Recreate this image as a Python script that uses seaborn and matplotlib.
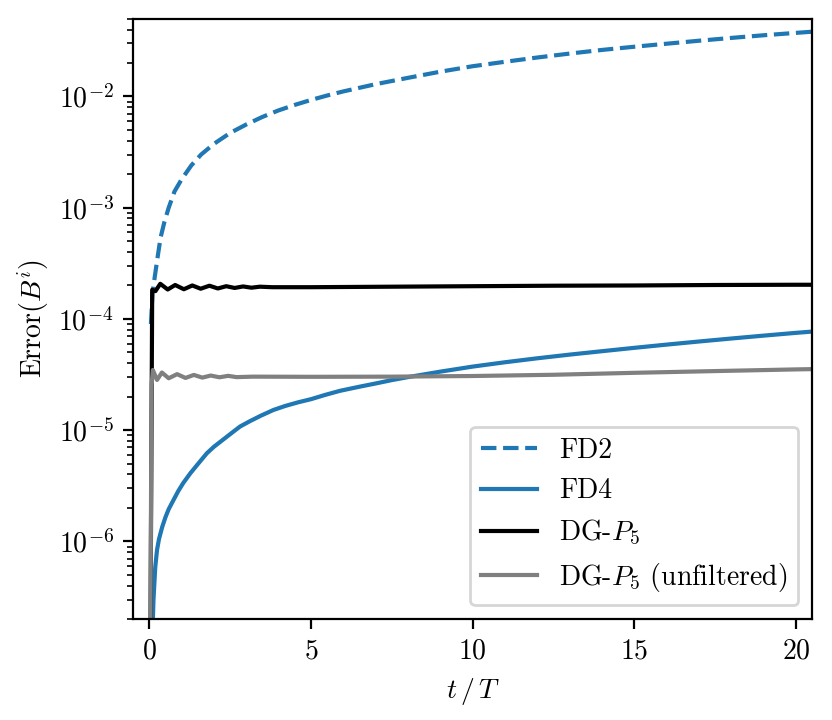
import matplotlib
matplotlib.use('Agg')
import matplotlib.pyplot as plt
import seaborn as sns

# values (t/T, error)
t_fd2 = [0.05, 0.1, 0.17, 0.27, 0.35, 0.47, 0.6, 0.78, 1.0, 1.3, 1.6, 2.0, 2.5, 3.0, 3.5, 4.0,
         4.5, 5.0, 5.5, 6.0, 7.0, 8.0, 9.0, 10.0, 11.0, 12.0, 13.0, 14.0, 15.0, 16.0, 17.0,
         18.0, 19.0, 20.0, 20.5]
err_fd2 = [9e-5, 1.7e-4, 2.4e-4, 3.8e-4, 5.4e-4, 7.5e-4, 1.0e-3, 1.4e-3, 1.8e-3, 2.4e-3, 3.0e-3,
           3.75e-3, 4.7e-3, 5.6e-3, 6.55e-3, 7.5e-3, 8.4e-3, 9.3e-3, 0.0102, 0.0111, 0.0129,
           0.0147, 0.0167, 0.0187, 0.0205, 0.0224, 0.0243, 0.0262, 0.0280, 0.0298, 0.0317,
           0.0336, 0.0355, 0.0373, 0.0382]

t_fd4 = [0.08, 0.13, 0.185, 0.24, 0.3, 0.4, 0.5, 0.6, 0.75, 0.9, 1.05, 1.27, 1.5, 1.78, 2.0,
         2.3, 2.6, 2.81, 3.1, 3.45, 3.84, 4.2, 4.6, 5.0, 5.45, 5.9, 6.5, 7.0, 7.5, 8.0, 9.0,
         10.0, 11.0, 12.0, 13.0, 14.0, 15.0, 16.0, 17.0, 18.0, 19.0, 20.0, 20.5]
err_fd4 = [1e-7, 3.0e-7, 5.9e-7, 8.4e-7, 1.05e-6, 1.35e-6, 1.65e-6, 1.95e-6, 2.36e-6, 2.85e-6,
           3.35e-6, 4.1e-6, 4.95e-6, 6.2e-6, 7.1e-6, 8.3e-6, 9.7e-6, 1.08e-5, 1.2e-5, 1.35e-5,
           1.52e-5, 1.65e-5, 1.78e-5, 1.9e-5, 2.08e-5, 2.26e-5, 2.46e-5, 2.63e-5, 2.82e-5,
           3.0e-5, 3.36e-5, 3.73e-5, 4.08e-5, 4.43e-5, 4.78e-5, 5.13e-5, 5.5e-5, 5.88e-5,
           6.27e-5, 6.67e-5, 7.08e-5, 7.5e-5, 7.7e-5]

t_dg = [0.0, 0.09, 0.19, 0.34, 0.57, 0.80, 1.07, 1.33, 1.59, 1.86, 2.12, 2.38, 2.64, 2.90,
        3.16, 3.42, 3.8, 5.0, 7.5, 10.0, 12.5, 15.0, 17.5, 20.0, 20.5]
err_dg = [1e-9, 1.83e-4, 1.78e-4, 2.07e-4, 1.84e-4, 2.02e-4, 1.85e-4, 2.0e-4, 1.87e-4, 1.99e-4,
          1.88e-4, 1.97e-4, 1.90e-4, 1.96e-4, 1.91e-4, 1.95e-4, 1.93e-4, 1.93e-4, 1.95e-4,
          1.97e-4, 1.99e-4, 2.0e-4, 2.02e-4, 2.03e-4, 2.03e-4]

t_dg_unf = [0.0, 0.07, 0.11, 0.24, 0.39, 0.60, 0.86, 1.12, 1.38, 1.64, 1.90, 2.17, 2.44, 2.70,
            3.2, 5.0, 7.5, 10.0, 12.5, 15.0, 17.5, 20.0, 20.5]
err_dg_unf = [1e-9, 2.5e-5, 3.48e-5, 2.83e-5, 3.3e-5, 2.93e-5, 3.19e-5, 2.95e-5, 3.14e-5, 2.97e-5,
              3.1e-5, 2.99e-5, 3.08e-5, 3.0e-5, 3.03e-5, 3.02e-5, 3.03e-5, 3.07e-5, 3.15e-5,
              3.28e-5, 3.4e-5, 3.52e-5, 3.54e-5]

# computer modern look
plt.rcParams['font.family'] = 'serif'
plt.rcParams['font.serif'] = ['cmr10', 'DejaVu Serif']
plt.rcParams['mathtext.fontset'] = 'cm'
plt.rcParams['axes.formatter.use_mathtext'] = True
plt.rcParams['font.size'] = 10

fig, ax = plt.subplots(figsize=(4.16, 3.6), dpi=200)
fig.subplots_adjust(left=0.16, right=0.976, bottom=0.14, top=0.974)

sns.lineplot(x=t_fd2, y=err_fd2, ax=ax, color='tab:blue', linestyle='--', lw=1.5, label='FD2', sort=False)
sns.lineplot(x=t_fd4, y=err_fd4, ax=ax, color='tab:blue', lw=1.5, label='FD4', sort=False)
sns.lineplot(x=t_dg, y=err_dg, ax=ax, color='black', lw=1.5, label='DG-$P_5$', sort=False)
sns.lineplot(x=t_dg_unf, y=err_dg_unf, ax=ax, color='gray', lw=1.5,
             label='DG-$P_5$ (unfiltered)', sort=False)

ax.set_yscale('log')
ax.set_ylim(2e-7, 5e-2)
ax.set_xlim(-0.5, 20.5)
ax.set_xticks([0, 5, 10, 15, 20])
ax.set_xlabel(r'$t\,/\,T$')
ax.set_ylabel(r'Error$(B^i)$', labelpad=2)
ax.legend(loc='lower right')

plt.savefig('out.png', dpi=200)
